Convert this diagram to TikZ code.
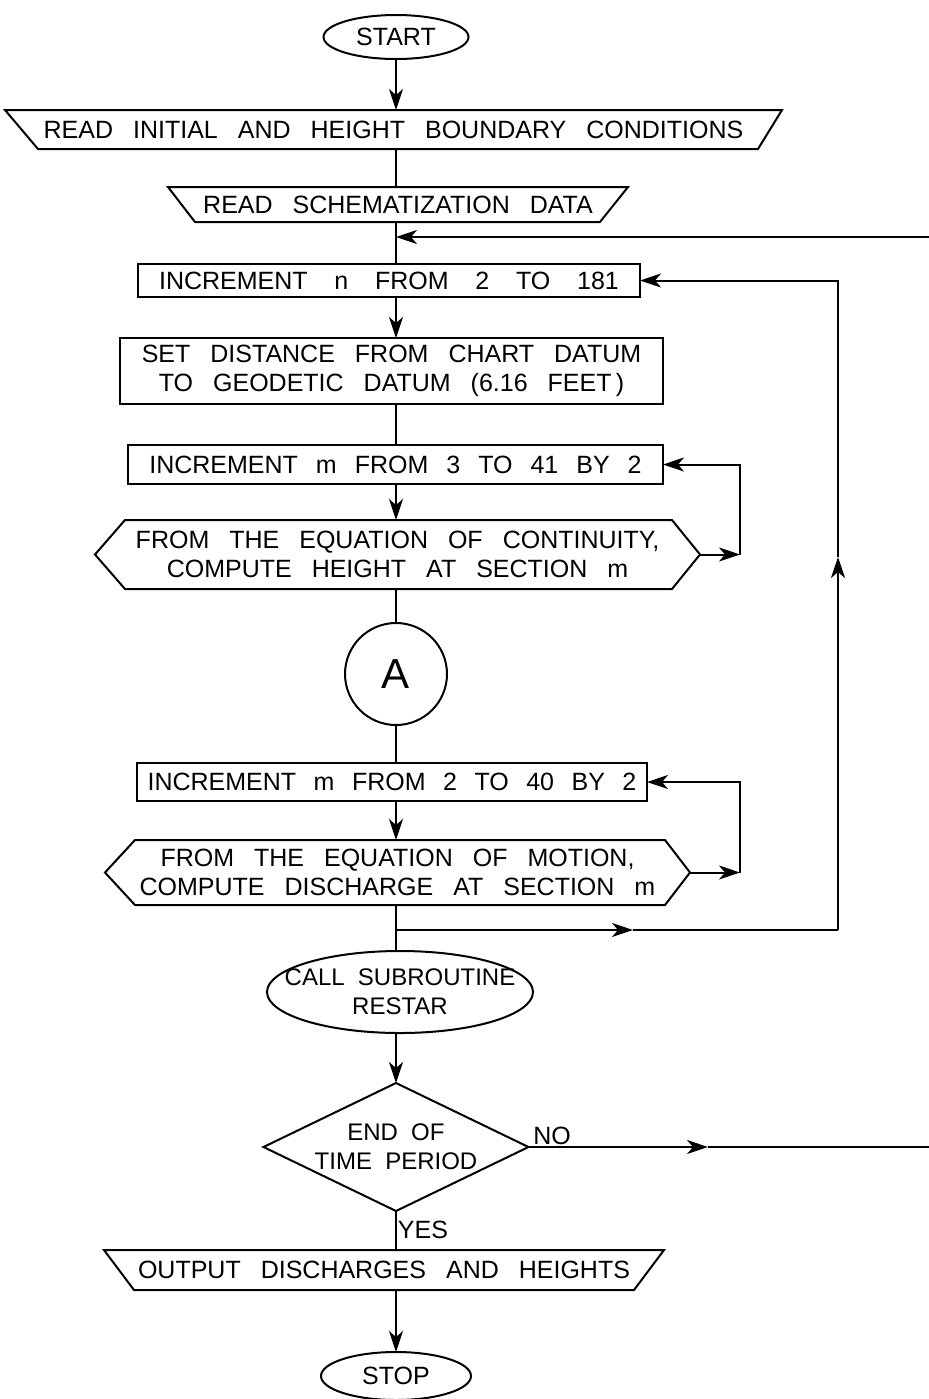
\documentclass[tikz,border=0pt]{standalone}
\usepackage{fontspec}
\setmainfont{Liberation Sans}
\usetikzlibrary{arrows.meta,calc,shapes.geometric}
\begin{document}
\begin{tikzpicture}[x=0.5pt,y=-0.5pt,
  every node/.style={inner sep=0pt, outer sep=0pt},
  txt/.style={font={\fontsize{12.5}{14.5}\selectfont\spaceskip=0.8em plus 0.1em minus 0.1em\relax}, align=center},
  smalltxt/.style={font={\fontsize{12}{14.5}\selectfont\spaceskip=0.55em plus 0.1em minus 0.1em\relax}, align=center},
  ln/.style={line width=1pt, black, line join=miter},
  arr/.style={ln, -{Stealth[length=10.5pt,width=7pt,inset=3pt]}},
  boxnode/.style={txt, draw, ln, rectangle},
  holder/.style={txt, rectangle, draw=none},
  term/.style={txt, draw, ln, ellipse}
]
\useasboundingbox (0,0) rectangle (929,1399);

% ---- nodes ----
\node[term, minimum width=72.5pt, minimum height=22pt] (start) at (396,37) {START};

\node[holder, minimum width=388.5pt, minimum height=19.5pt] (read1) at (393.5,129.5) {READ INITIAL AND HEIGHT BOUNDARY CONDITIONS};
\draw[ln] (read1.north west) -- (read1.north east) -- ($(read1.south east)+(-24,0)$) -- ($(read1.south west)+(33,0)$) -- cycle;

\node[holder, minimum width=230pt, minimum height=17.5pt] (read2) at (398,204.5) {READ SCHEMATIZATION DATA};
\draw[ln] (read2.north west) -- (read2.north east) -- ($(read2.south east)+(-28,0)$) -- ($(read2.south west)+(27,0)$) -- cycle;

\node[boxnode, minimum width=251pt, minimum height=16.5pt] (incn) at (389,280.5) {\spaceskip=1.07em\relax INCREMENT n FROM 2 TO 181};

\node[boxnode, minimum width=271.5pt, minimum height=33pt] (setd) at (391.5,371) {SET DISTANCE FROM CHART DATUM\\TO GEODETIC DATUM (6.16 FEET\,)};

\node[boxnode, minimum width=267.5pt, minimum height=19.5pt] (incm1) at (395.5,464.5) {\spaceskip=0.72em\relax INCREMENT m FROM 3 TO 41 BY 2};

\node[holder, minimum width=302.5pt, minimum height=34.5pt] (hex1) at (397.5,554.5) {FROM THE EQUATION OF CONTINUITY,\\COMPUTE HEIGHT AT SECTION m};
\draw[ln] (hex1.west) -- ($(hex1.north west)+(30,0)$) -- ($(hex1.north east)+(-28,0)$) -- (hex1.east) -- ($(hex1.south east)+(-28,0)$) -- ($(hex1.south west)+(30,0)$) -- cycle;

\node[draw, ln, circle, minimum size=51pt, font=\fontsize{21}{21}\selectfont] (A) at (396,674) {A};

\node[boxnode, minimum width=255pt, minimum height=19pt] (incm2) at (392,782) {\spaceskip=0.7em\relax INCREMENT m FROM 2 TO 40 BY 2};

\node[holder, minimum width=292.5pt, minimum height=32.5pt] (hex2) at (397.5,872.5) {FROM THE EQUATION OF MOTION,\\COMPUTE DISCHARGE AT SECTION m};
\draw[ln] (hex2.west) -- ($(hex2.north west)+(30,0)$) -- ($(hex2.north east)+(-25,0)$) -- (hex2.east) -- ($(hex2.south east)+(-25,0)$) -- ($(hex2.south west)+(30,0)$) -- cycle;

\node[holder, smalltxt, minimum width=133pt, minimum height=41pt] (call) at (400,992) {CALL SUBROUTINE\\RESTAR};
\draw[ln] (call.center) ellipse [x radius=66.5pt, y radius=20.5pt];

\node[holder, smalltxt, minimum width=132.5pt, minimum height=64pt] (dia) at (396,1147) {END OF\\TIME PERIOD};
\draw[ln] (dia.north) -- (dia.east) -- (dia.south) -- (dia.west) -- cycle;

\node[holder, minimum width=280pt, minimum height=20pt] (out) at (384,1270) {OUTPUT DISCHARGES AND HEIGHTS};
\draw[ln] (out.north west) -- (out.north east) -- ($(out.south east)+(-30,0)$) -- ($(out.south west)+(30,0)$) -- cycle;

\node[term, minimum width=75pt, minimum height=24pt] (stop) at (396,1376) {STOP};

\node[txt] (no) at (552,1136) {NO};
\node[txt] (yes) at (423,1230) {YES};

% ---- main flow ----
\draw[arr] (start.south) -- (read1.north -| start);
\draw[ln] (read1.south -| start) -- (read2.north -| start);
\draw[ln] (read2.south -| start) -- (incn.north -| start);
\draw[arr] (incn.south -| start) -- (setd.north -| start);
\draw[ln] (setd.south -| start) -- (incm1.north -| start);
\draw[arr] (incm1.south -| start) -- (hex1.north -| start);
\draw[ln] (hex1.south -| start) -- (A.north);
\draw[ln] (A.south) -- (incm2.north -| start);
\draw[arr] (incm2.south -| start) -- (hex2.north -| start);
\draw[ln] (hex2.south -| start) -- (call.north -| start);
\draw[arr] (call.south -| start) -- (dia.north);
\draw[ln] (dia.south) -- (out.north -| start);
\draw[arr] (out.south -| start) -- (stop.north);

% ---- inner loops ----
\coordinate (lx) at (740,0);
\draw[arr] (hex1.east) -- (hex1.east -| lx);
\draw[arr] (hex1.east -| lx) -- (incm1.east -| lx) -- (incm1.east);
\draw[arr] (hex2.east) -- (hex2.east -| lx);
\draw[arr] (hex2.east -| lx) -- (incm2.east -| lx) -- (incm2.east);

% ---- outer loop ----
\coordinate (br) at (396,930);
\coordinate (bm) at (633,930);
\coordinate (rc) at (838,930);
\coordinate (rm) at (838,557);
\draw[arr] (br) -- (bm);
\draw[ln] (bm) -- (rc);
\draw[arr] (rc) -- (rm);
\draw[arr] (rm) -- (rm |- incn.east) -- (incn.east);

% ---- time loop ----
\coordinate (t1) at (929,237);
\draw[arr] (t1) -- (t1 -| start);
\coordinate (nm) at (708,1147);
\coordinate (ne) at (929,1147);
\draw[arr] (dia.east) -- (nm);
\draw[ln] (nm) -- (ne);
\end{tikzpicture}
\end{document}
